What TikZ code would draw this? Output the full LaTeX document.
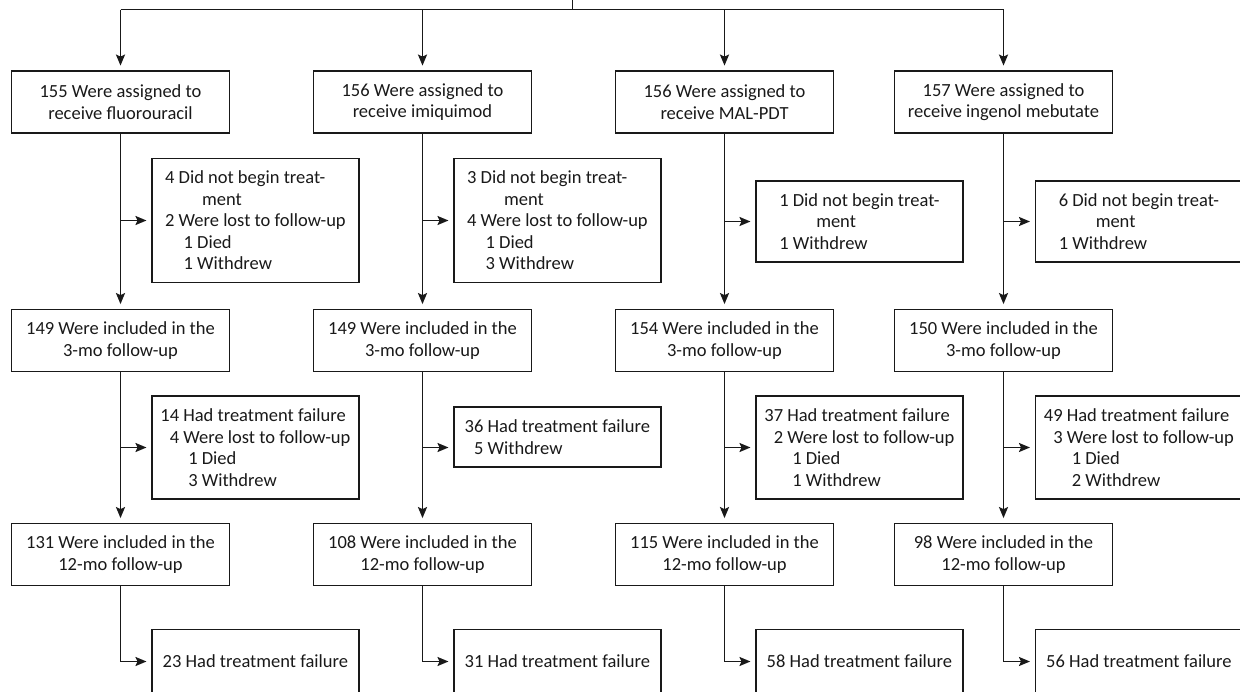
\documentclass[tikz,border=0pt]{standalone}
\usepackage{fontspec}
\setmainfont{Carlito}
\usetikzlibrary{arrows.meta}

\tikzset{
	txt/.style={font=\fontsize{18.5}{21.5}\selectfont},
	mainbox/.style={txt, draw, minimum width=218pt, minimum height=62pt, inner ysep=11pt, align=center},
	sidebox/.style={txt, draw, anchor=west, minimum width=207pt, inner ysep=12.5pt, align=left},
	arr/.style={-{Stealth[length=11pt,width=9pt,inset=2pt]}, shorten >=4.5pt}
}

\begin{document}
\begin{tikzpicture}[x=1pt,y=-1pt,line width=1.8pt,color=black!90]
		\clip (0,0) rectangle (1240,691);
		
		% assigned groups
		\node[mainbox] (fu) at (120.5,102) {155 Were assigned to\\receive fluorouracil};
		\node[mainbox] (im) at (422.5,102) {156 Were assigned to\\receive imiquimod};
		\node[mainbox] (mal) at (724.5,102) {156 Were assigned to\\receive MAL-PDT};
		\node[mainbox] (ing) at (1003.5,102) {157 Were assigned to\\receive ingenol mebutate};
		
		% before treatment
		\node[sidebox] (fu1x) at (151,220.5) {4 Did not begin treat-\\\hspace*{2em}ment\\2 Were lost to follow-up\\\hspace*{1em}1 Died\\\hspace*{1em}1 Withdrew};
		\node[sidebox] (im1x) at (453,220.5) {3 Did not begin treat-\\\hspace*{2em}ment\\4 Were lost to follow-up\\\hspace*{1em}1 Died\\\hspace*{1em}3 Withdrew};
		\node[sidebox] (mal1x) at (755,221.5) {1 Did not begin treat-\\\hspace*{2em}ment\\1 Withdrew};
		\node[sidebox] (ing1x) at (1034.5,221.5) {6 Did not begin treat-\\\hspace*{2em}ment\\1 Withdrew};
		
		% 3-mo follow-up
		\node[mainbox] (fu3) at (120.5,340.5) {149 Were included in the\\3-mo follow-up};
		\node[mainbox] (im3) at (422.5,340.5) {149 Were included in the\\3-mo follow-up};
		\node[mainbox] (mal3) at (724.5,340.5) {154 Were included in the\\3-mo follow-up};
		\node[mainbox] (ing3) at (1003.5,340.5) {150 Were included in the\\3-mo follow-up};
		
		\node[sidebox] (fu3x) at (151,447.5) {14 Had treatment failure\\\phantom{1}4 Were lost to follow-up\\\phantom{1}\hspace*{1em}1 Died\\\phantom{1}\hspace*{1em}3 Withdrew};
		\node[sidebox] (im3x) at (453,437) {36 Had treatment failure\\\phantom{3}5 Withdrew};
		\node[sidebox] (mal3x) at (755,447.5) {37 Had treatment failure\\\phantom{3}2 Were lost to follow-up\\\phantom{3}\hspace*{1em}1 Died\\\phantom{3}\hspace*{1em}1 Withdrew};
		\node[sidebox] (ing3x) at (1034.5,447.5) {49 Had treatment failure\\\phantom{4}3 Were lost to follow-up\\\phantom{4}\hspace*{1em}1 Died\\\phantom{4}\hspace*{1em}2 Withdrew};
		
		% 12-mo follow-up
		\node[mainbox] (fu12) at (120.5,554.5) {131 Were included in the\\12-mo follow-up};
		\node[mainbox] (im12) at (422.5,554.5) {108 Were included in the\\12-mo follow-up};
		\node[mainbox] (mal12) at (724.5,554.5) {115 Were included in the\\12-mo follow-up};
		\node[mainbox] (ing12) at (1003.5,554.5) {98 Were included in the\\12-mo follow-up};
		
		\node[sidebox, minimum height=64pt] (fu12x) at (151,661.5) {23 Had treatment failure};
		\node[sidebox, minimum height=64pt] (im12x) at (453,661.5) {31 Had treatment failure};
		\node[sidebox, minimum height=64pt] (mal12x) at (755,661.5) {58 Had treatment failure};
		\node[sidebox, minimum height=64pt] (ing12x) at (1034.5,661.5) {56 Had treatment failure};
		
		% split at the top
		\coordinate (root) at (572.5,-5);
		\coordinate (split) at (572.5,9.5);
		\draw (root) -- (split);
		\draw (split -| fu.north) -- (split -| ing.north);
		\foreach \g in {fu,im,mal,ing} {
			\draw[arr] (split -| \g.north) -- (\g.north);
			\draw[arr] (\g.south) -- (\g3.north);
			\draw[arr] (\g3.south) -- (\g12.north);
			\draw[arr] (\g.south |- \g1x.west) -- (\g1x.west);
			\draw[arr] (\g12.south) |- (\g12x.west);
		}
		\draw[arr] (fu3.south |- fu3x.west) -- (fu3x.west);
		\draw[arr] (im3.south |- fu3x.west) -- (im3x.west |- fu3x.west);
		\draw[arr] (mal3.south |- mal3x.west) -- (mal3x.west);
		\draw[arr] (ing3.south |- ing3x.west) -- (ing3x.west);
	\end{tikzpicture}
\end{document}
